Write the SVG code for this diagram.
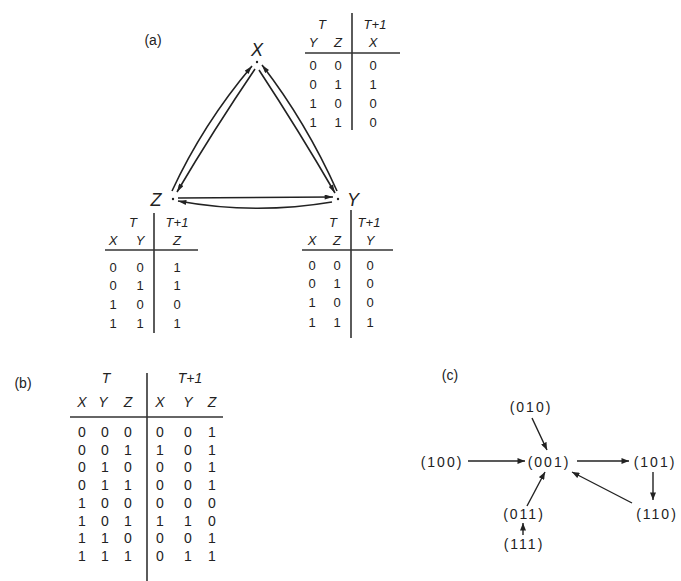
<svg xmlns="http://www.w3.org/2000/svg" width="681" height="581" viewBox="0 0 681 581">
<defs>
<marker id="ah" viewBox="0 0 10 6" refX="10" refY="3" markerWidth="9" markerHeight="5" markerUnits="userSpaceOnUse" orient="auto">
<path d="M0,0 L10,3 L0,6 Z" fill="#222"/>
</marker>
<marker id="ac" viewBox="0 0 10 8" refX="10" refY="4" markerWidth="8" markerHeight="6" markerUnits="userSpaceOnUse" orient="auto">
<path d="M0,0 L10,4 L0,8 Z" fill="#222"/>
</marker>
</defs>
<style>
text{font-family:"Liberation Sans","DejaVu Sans",sans-serif;fill:#222;text-anchor:middle}
.v{font-size:13px}
.h{font-size:13px;font-style:italic}
.n{font-size:18px;font-style:italic}
.lb{font-size:14px}
.bt{font-size:14px}
.c{font-size:14px;letter-spacing:2px}
.rule{stroke:#333;stroke-width:1.6;fill:none}
.e{stroke:#222;stroke-width:1.6;fill:none;marker-end:url(#ah)}
.ec{stroke:#222;stroke-width:1.4;fill:none;marker-end:url(#ac)}
</style>
<rect width="681" height="581" fill="#fff"/>

<text class="lb" x="153" y="45">(a)</text>
<text class="lb" x="23" y="388">(b)</text>
<text class="lb" x="450" y="380">(c)</text>

<!-- part (a) nodes -->
<g id="nodeX">
<text class="n" x="257" y="56">X</text>
<circle cx="257" cy="62" r="1.2" fill="#222"/>
</g>
<g id="nodeZ">
<text class="n" x="156" y="206">Z</text>
<circle cx="173" cy="199" r="1.2" fill="#222"/>
</g>
<g id="nodeY">
<text class="n" x="353" y="206">Y</text>
<circle cx="338" cy="199" r="1.2" fill="#222"/>
</g>

<!-- part (a) connectors -->
<g id="connectors-a">
<path class="e" d="M255,69 Q213,131 177,192"/>
<path class="e" d="M172,191 Q203,124 252,66"/>
<path class="e" d="M259,70 Q299,131 335,193"/>
<path class="e" d="M337,191 Q306,122 262,65"/>
<path class="e" d="M178,198 L333,197"/>
<path class="e" d="M332,202 Q255,215 178,201"/>
</g>

<!-- truth table for X -->
<g id="tableX">
<line class="rule" x1="352" y1="13" x2="352" y2="130"/>
<line class="rule" x1="305" y1="53" x2="400" y2="53"/>
<text class="h" x="322" y="29">T</text>
<text class="h" x="375" y="29">T+1</text>
<text class="h" x="313" y="47">Y</text>
<text class="h" x="338" y="47">Z</text>
<text class="h" x="373" y="47">X</text>
<text class="v" x="313" y="70">0</text><text class="v" x="338" y="70">0</text><text class="v" x="373" y="70">0</text>
<text class="v" x="313" y="89">0</text><text class="v" x="338" y="89">1</text><text class="v" x="373" y="89">1</text>
<text class="v" x="313" y="108">1</text><text class="v" x="338" y="108">0</text><text class="v" x="373" y="108">0</text>
<text class="v" x="313" y="127">1</text><text class="v" x="338" y="127">1</text><text class="v" x="373" y="127">0</text>
</g>

<!-- truth table for Z -->
<g id="tableZ">
<line class="rule" x1="154" y1="213" x2="154" y2="333"/>
<line class="rule" x1="105" y1="250" x2="198" y2="250"/>
<text class="h" x="133" y="227">T</text>
<text class="h" x="177" y="227">T+1</text>
<text class="h" x="113" y="245">X</text>
<text class="h" x="140" y="245">Y</text>
<text class="h" x="177" y="245">Z</text>
<text class="v" x="113" y="272">0</text><text class="v" x="140" y="272">0</text><text class="v" x="177" y="272">1</text>
<text class="v" x="113" y="290">0</text><text class="v" x="140" y="290">1</text><text class="v" x="177" y="290">1</text>
<text class="v" x="113" y="309">1</text><text class="v" x="140" y="309">0</text><text class="v" x="177" y="309">0</text>
<text class="v" x="113" y="328">1</text><text class="v" x="140" y="328">1</text><text class="v" x="177" y="328">1</text>
</g>

<!-- truth table for Y -->
<g id="tableY">
<line class="rule" x1="351" y1="210" x2="351" y2="338"/>
<line class="rule" x1="302" y1="250" x2="393" y2="250"/>
<text class="h" x="333" y="227">T</text>
<text class="h" x="369" y="227">T+1</text>
<text class="h" x="312" y="245">X</text>
<text class="h" x="337" y="245">Z</text>
<text class="h" x="370" y="245">Y</text>
<text class="v" x="312" y="270">0</text><text class="v" x="337" y="270">0</text><text class="v" x="370" y="270">0</text>
<text class="v" x="312" y="288">0</text><text class="v" x="337" y="288">1</text><text class="v" x="370" y="288">0</text>
<text class="v" x="312" y="307">1</text><text class="v" x="337" y="307">0</text><text class="v" x="370" y="307">0</text>
<text class="v" x="312" y="327">1</text><text class="v" x="337" y="327">1</text><text class="v" x="370" y="327">1</text>
</g>

<!-- part (b) -->
<g id="tableB">
<line class="rule" x1="147" y1="373" x2="147" y2="581"/>
<line class="rule" x1="70" y1="417" x2="223" y2="417"/>
<text class="bt" x="106" y="383" font-style="italic">T</text>
<text class="bt" x="190" y="383" font-style="italic">T+1</text>
<text class="bt" x="82" y="407" font-style="italic">X</text>
<text class="bt" x="103" y="407" font-style="italic">Y</text>
<text class="bt" x="128" y="407" font-style="italic">Z</text>
<text class="bt" x="160" y="407" font-style="italic">X</text>
<text class="bt" x="188" y="407" font-style="italic">Y</text>
<text class="bt" x="212" y="407" font-style="italic">Z</text>
<text class="bt" x="82" y="437">0</text><text class="bt" x="105" y="437">0</text><text class="bt" x="128" y="437">0</text><text class="bt" x="160" y="437">0</text><text class="bt" x="188" y="437">0</text><text class="bt" x="212" y="437">1</text>
<text class="bt" x="82" y="455">0</text><text class="bt" x="105" y="455">0</text><text class="bt" x="128" y="455">1</text><text class="bt" x="160" y="455">1</text><text class="bt" x="188" y="455">0</text><text class="bt" x="212" y="455">1</text>
<text class="bt" x="82" y="472">0</text><text class="bt" x="105" y="472">1</text><text class="bt" x="128" y="472">0</text><text class="bt" x="160" y="472">0</text><text class="bt" x="188" y="472">0</text><text class="bt" x="212" y="472">1</text>
<text class="bt" x="82" y="490">0</text><text class="bt" x="105" y="490">1</text><text class="bt" x="128" y="490">1</text><text class="bt" x="160" y="490">0</text><text class="bt" x="188" y="490">0</text><text class="bt" x="212" y="490">1</text>
<text class="bt" x="82" y="508">1</text><text class="bt" x="105" y="508">0</text><text class="bt" x="128" y="508">0</text><text class="bt" x="160" y="508">0</text><text class="bt" x="188" y="508">0</text><text class="bt" x="212" y="508">0</text>
<text class="bt" x="82" y="526">1</text><text class="bt" x="105" y="526">0</text><text class="bt" x="128" y="526">1</text><text class="bt" x="160" y="526">1</text><text class="bt" x="188" y="526">1</text><text class="bt" x="212" y="526">0</text>
<text class="bt" x="82" y="543">1</text><text class="bt" x="105" y="543">1</text><text class="bt" x="128" y="543">0</text><text class="bt" x="160" y="543">0</text><text class="bt" x="188" y="543">0</text><text class="bt" x="212" y="543">1</text>
<text class="bt" x="82" y="561">1</text><text class="bt" x="105" y="561">1</text><text class="bt" x="128" y="561">1</text><text class="bt" x="160" y="561">0</text><text class="bt" x="188" y="561">1</text><text class="bt" x="212" y="561">1</text>
</g>

<!-- part (c) nodes -->
<g id="s010"><text class="c" x="531" y="412">(010)</text></g>
<g id="s100"><text class="c" x="442" y="467">(100)</text></g>
<g id="s001"><text class="c" x="549" y="467">(001)</text></g>
<g id="s101"><text class="c" x="655" y="467">(101)</text></g>
<g id="s011"><text class="c" x="524" y="519">(011)</text></g>
<g id="s110"><text class="c" x="657" y="519">(110)</text></g>
<g id="s111"><text class="c" x="524" y="549">(111)</text></g>

<!-- part (c) connectors -->
<g id="connectors-c">
<path class="ec" d="M468,461 L525,461"/>
<path class="ec" d="M532,418 L547,450"/>
<path class="ec" d="M577,461 L629,461"/>
<path class="ec" d="M653,472 L653,500"/>
<path class="ec" d="M632,503 L572,472"/>
<path class="ec" d="M527,506 L545,472"/>
<path class="ec" d="M523,535 L523,523"/>
</g>
</svg>
